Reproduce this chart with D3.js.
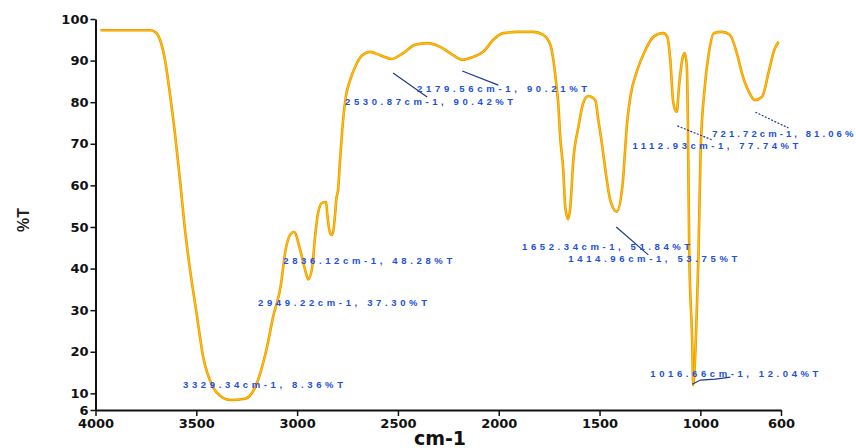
<!DOCTYPE html>
<html>
<head>
<meta charset="utf-8">
<script src="https://cdn.jsdelivr.net/npm/d3@7"></script>
<style>
  body { margin: 0; background: #fff; }
  svg { display: block; }
  .tick text { font-family: "DejaVu Sans", sans-serif; font-weight: bold; }
</style>
</head>
<body>
<div id="chart"></div>
<script>
// Spectrum (wavenumber in cm-1, transmittance in %T)
const wavenumber = [3975, 3730, 3705, 3680, 3655, 3630, 3605, 3581, 3556, 3531, 3501, 3466, 3417, 3382, 3332,
  3258, 3208, 3149, 3119, 3082, 3057, 3035, 3015, 2985, 2960, 2945, 2925, 2911, 2896, 2876, 2856, 2851,
  2836, 2826, 2811, 2806, 2797, 2787, 2772, 2757, 2737, 2712, 2677, 2638, 2588, 2531, 2474, 2415, 2355,
  2290, 2226, 2180, 2126, 2077, 2027, 1978, 1908, 1829, 1779, 1744, 1729, 1714, 1705, 1695, 1680, 1670,
  1656, 1645, 1630, 1605, 1581, 1556, 1521, 1506, 1486, 1471, 1447, 1415, 1387, 1362, 1347, 1313, 1273,
  1233, 1184, 1164, 1149, 1134, 1117, 1106, 1087, 1077, 1067, 1062, 1055, 1039, 1036, 1029, 1019, 1009,
  999, 978, 958, 933, 893, 854, 819, 794, 759, 729, 694, 659, 634, 612];
const transmittance = [97.3, 97.3, 96.9, 95.0, 90.1, 81.7, 72.1, 61.3, 49.3, 39.7, 30.0, 18.8, 11.5, 9.4, 8.4,
  8.7, 11.5, 21.2, 28.4, 35.6, 44.5, 48.1, 48.8, 44.5, 39.7, 37.4, 40.4, 47.6, 53.4, 55.8, 56.0, 53.4,
  48.5, 48.1, 53.4, 56.5, 58.9, 66.1, 75.7, 81.7, 85.3, 88.5, 91.3, 92.1, 91.3, 90.4, 91.8, 93.8, 94.2,
  93.3, 91.3, 90.2, 90.9, 92.1, 95.0, 96.6, 96.9, 96.9, 96.2, 93.8, 90.1, 84.1, 79.8, 71.6, 63.7, 54.8,
  51.9, 54.8, 66.1, 74.0, 79.8, 81.5, 80.5, 75.7, 69.2, 63.7, 56.5, 53.7, 59.6, 75.7, 81.3, 87.7, 92.5,
  95.7, 96.6, 95.7, 90.1, 79.8, 77.7, 83.7, 90.9, 91.8, 88.5, 75.7, 43.8, 19.7, 12.0, 15.6, 27.6, 43.8,
  67.8, 83.7, 91.8, 96.6, 96.9, 96.2, 91.8, 87.0, 82.5, 80.5, 81.3, 87.7, 92.5, 94.5];

// Axis ticks
const xTicks = [4000, 3500, 3000, 2500, 2000, 1500, 1000, 600];
const yTicks = [100, 90, 80, 70, 60, 50, 40, 30, 20, 10, 6];

// Peak annotations
const peakLabels = ["3329.34cm-1, 8.36%T", "2949.22cm-1, 37.30%T", "2836.12cm-1, 48.28%T",
  "2530.87cm-1, 90.42%T", "2179.56cm-1, 90.21%T", "1652.34cm-1, 51.84%T", "1414.96cm-1, 53.75%T",
  "1112.93cm-1, 77.74%T", "721.72cm-1, 81.06%T", "1016.66cm-1, 12.04%T"];
// where each label starts (in data units)
const labelWn = [3566, 3194, 3069, 2762, 2405, 1884, 1655, 1337, 941, 1248];
const labelT = [11.3, 31.0, 41.1, 79.3, 82.5, 44.5, 41.6, 68.75, 71.6, 13.9];
const labelWidth = [160, 169, 169, 168, 170, 168, 169, 166, 150, 168];

// leader lines [wn, T] pairs
const leaders = [
  {pts: [[2524, 87.0], [2355, 81.25]], dash: null},
  {pts: [[2181, 87.5], [2002, 84.1]], dash: null},
  {pts: [[1417, 50.0], [1258, 43.3]], dash: null},
  {pts: [[1114, 74.3], [940, 70.9]], dash: "2,1.5"},
  {pts: [[727, 77.6], [563, 73.8]], dash: "2,1.5"},
  {pts: [[1040, 12.2], [1000, 13.2], [925, 13.4], [851, 13.9]], dash: null}
];

const W = 856, H = 448;
const margin = {top: 19, right: 75, bottom: 38, left: 95.5};

const svg = d3.select("#chart").append("svg")
    .attr("width", W)
    .attr("height", H);

const xScale = d3.scaleLinear().domain([4000, 600]).range([margin.left, W - margin.right]);
const yScale = d3.scaleLinear().domain([6, 100]).range([H - margin.bottom, margin.top]);

// x axis
const xAxis = d3.axisBottom(xScale).tickValues(xTicks).tickFormat(d3.format("d"))
    .tickSize(6).tickSizeOuter(0).tickPadding(3);
const gx = svg.append("g")
    .attr("transform", `translate(0, ${H - margin.bottom})`)
    .call(xAxis);
gx.selectAll("text").attr("font-size", 13).attr("fill", "#111");

// y axis
const yAxis = d3.axisLeft(yScale).tickValues(yTicks).tickSize(5).tickSizeOuter(0).tickPadding(2);
const gy = svg.append("g")
    .attr("transform", `translate(${margin.left}, 0)`)
    .call(yAxis);
gy.selectAll("text").attr("font-size", 13).attr("fill", "#111");

svg.selectAll(".domain").attr("stroke", "#111").attr("stroke-width", 2);
svg.selectAll(".tick line").attr("stroke", "#111").attr("stroke-width", 1.5);

// axis titles
svg.append("text")
    .attr("transform", "translate(29, 220) rotate(-90)")
    .attr("text-anchor", "middle")
    .attr("font-family", "Liberation Sans, Arial, sans-serif")
    .attr("font-weight", "bold")
    .attr("font-size", 16)
    .attr("fill", "#222")
    .text("%T");

svg.append("text")
    .attr("x", 440)
    .attr("y", 445)
    .attr("text-anchor", "middle")
    .attr("font-family", "DejaVu Sans, sans-serif")
    .attr("font-weight", "bold")
    .attr("font-size", 19)
    .attr("fill", "#111")
    .text("cm-1");

// spectrum line
const data = wavenumber.map((w, i) => ({w: w, t: transmittance[i]}));
const line = d3.line()
    .x(d => xScale(d.w))
    .y(d => yScale(d.t))
    .curve(d3.curveMonotoneX);

svg.append("path")
    .datum(data)
    .attr("fill", "none")
    .attr("stroke", "#ee9200")
    .attr("stroke-width", 2.6)
    .attr("stroke-linejoin", "round")
    .attr("d", line);

svg.append("path")
    .datum(data)
    .attr("fill", "none")
    .attr("stroke", "#fcc400")
    .attr("stroke-width", 1.2)
    .attr("stroke-linejoin", "round")
    .attr("d", line);

// leader lines
const leaderLine = d3.line().x(d => xScale(d[0])).y(d => yScale(d[1]));
leaders.forEach(function(l) {
    svg.append("path")
        .attr("d", leaderLine(l.pts))
        .attr("fill", "none")
        .attr("stroke", "#1d3890")
        .attr("stroke-width", 1.2)
        .attr("stroke-dasharray", l.dash);
});

// peak labels
svg.selectAll(".peak")
    .data(peakLabels)
    .enter().append("text")
    .attr("class", "peak")
    .attr("x", (d, i) => xScale(labelWn[i]))
    .attr("y", (d, i) => yScale(labelT[i]))
    .attr("font-family", "Liberation Sans, Arial, sans-serif")
    .attr("font-weight", "bold")
    .attr("font-size", 9.5)
    .attr("fill", "#2150d8")
    .attr("textLength", (d, i) => labelWidth[i])
    .attr("lengthAdjust", "spacing")
    .text(d => d);
</script>
</body>
</html>
